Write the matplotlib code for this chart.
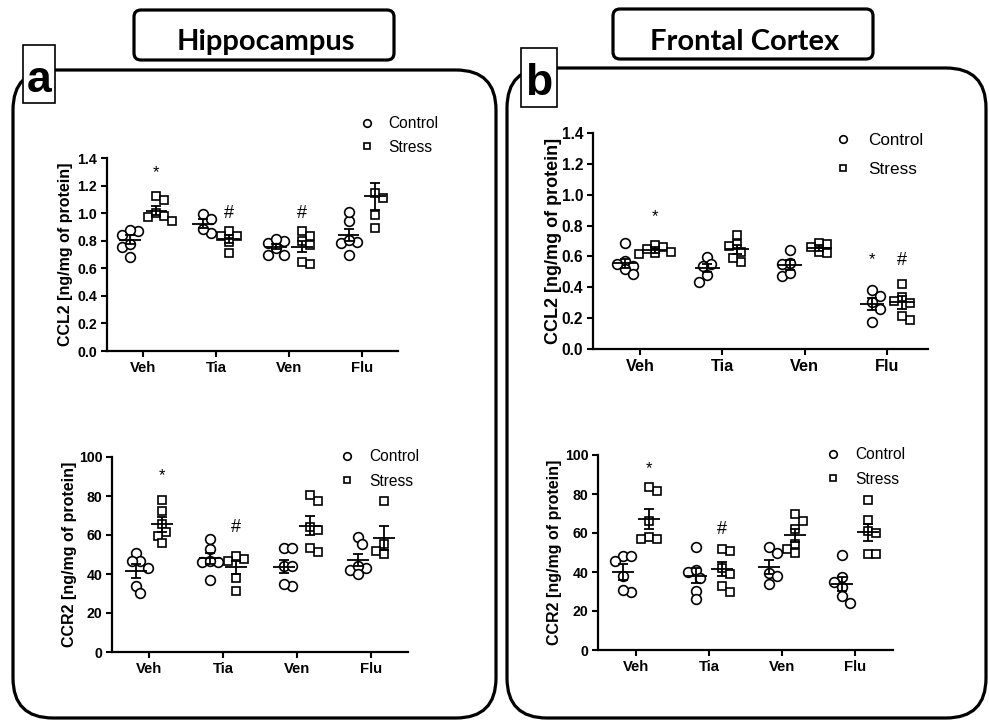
import numpy as np
import matplotlib
matplotlib.use("Agg")
import matplotlib.pyplot as plt
from matplotlib.patches import FancyBboxPatch, Rectangle
from matplotlib.ticker import FormatStrFormatter

plt.rcParams['font.family'] = ['Liberation Sans', 'DejaVu Sans']

groups = ["Veh", "Tia", "Ven", "Flu"]

# Hippocampus CCL2 (ng/mg of protein)
hip_ccl2_control = [[0.867, 0.840, 0.879, 0.685, 0.751, 0.777],
                    [0.995, 0.959, 0.855, 0.886],
                    [0.799, 0.782, 0.814, 0.746, 0.697, 0.697],
                    [0.945, 1.005, 0.792, 0.787, 0.806, 0.695]]
hip_ccl2_stress = [[1.121, 1.097, 0.981, 0.969, 0.945, 1.000],
                   [0.869, 0.831, 0.836, 0.792, 0.710],
                   [0.867, 0.831, 0.799, 0.770, 0.632, 0.642],
                   [1.112, 1.146, 0.983, 0.894]]
hip_ccl2_control_mean = [0.806, 0.923, 0.758, 0.840]
hip_ccl2_control_sem = [0.033, 0.033, 0.020, 0.045]
hip_ccl2_stress_mean = [1.017, 0.811, 0.758, 1.121]
hip_ccl2_stress_sem = [0.033, 0.030, 0.040, 0.100]

# Hippocampus CCR2
hip_ccr2_control = [[50.6, 46.7, 46.7, 43.3, 33.9, 30.2],
                    [52.8, 57.9, 46.3, 46.3, 46.7, 37.0],
                    [53.2, 53.2, 44.1, 44.1, 33.6, 34.8],
                    [58.8, 55.2, 42.9, 42.1, 44.3, 40.0]]
hip_ccr2_stress = [[72.4, 77.9, 65.4, 61.3, 59.5, 55.7],
                   [47.5, 49.4, 46.8, 38.2, 31.5],
                   [77.3, 80.4, 64.2, 62.5, 51.4, 53.2],
                   [77.3, 55.2, 51.8, 50.1]]
hip_ccr2_control_mean = [41.7, 48.0, 43.8, 47.2]
hip_ccr2_control_sem = [3.5, 2.8, 3.4, 3.1]
hip_ccr2_stress_mean = [65.4, 43.4, 64.7, 58.6]
hip_ccr2_stress_sem = [3.7, 3.4, 4.9, 6.2]

# Frontal cortex CCL2
fc_ccl2_control = [[0.689, 0.571, 0.541, 0.517, 0.487, 0.550],
                   [0.599, 0.551, 0.538, 0.437, 0.480],
                   [0.642, 0.551, 0.556, 0.470, 0.491],
                   [0.383, 0.345, 0.302, 0.258, 0.172]]
fc_ccl2_stress = [[0.663, 0.674, 0.620, 0.631, 0.616, 0.645],
                  [0.681, 0.737, 0.670, 0.631, 0.562, 0.588],
                  [0.678, 0.685, 0.631, 0.625, 0.663],
                  [0.420, 0.340, 0.312, 0.297, 0.190, 0.215]]
fc_ccl2_control_mean = [0.556, 0.523, 0.545, 0.293]
fc_ccl2_control_sem = [0.029, 0.027, 0.032, 0.040]
fc_ccl2_stress_mean = [0.642, 0.646, 0.653, 0.302]
fc_ccl2_stress_sem = [0.020, 0.029, 0.018, 0.040]

# Frontal cortex CCR2
fc_ccr2_control = [[48.4, 48.4, 45.8, 37.9, 29.6, 30.8],
                   [53.0, 40.2, 41.0, 37.1, 30.4, 26.0],
                   [53.0, 49.6, 39.7, 37.9, 33.8],
                   [48.7, 37.6, 35.0, 32.5, 27.7, 24.3]]
fc_ccr2_stress = [[81.7, 83.8, 66.2, 58.1, 56.8, 57.0],
                  [50.8, 51.8, 42.2, 38.8, 33.0, 29.6],
                  [66.3, 69.7, 62.2, 54.4, 51.8, 49.8],
                  [76.9, 66.7, 61.0, 59.8, 49.1, 49.1]]
fc_ccr2_control_mean = [40.2, 38.1, 42.7, 33.7]
fc_ccr2_control_sem = [4.1, 3.8, 3.6, 3.6]
fc_ccr2_stress_mean = [67.0, 41.4, 58.8, 60.3]
fc_ccr2_stress_sem = [5.1, 3.6, 3.4, 4.4]

# significance marks: (group, series, symbol, y)
hip_ccl2_marks = [(0, "S", "*", 1.296), (1, "S", "#", 1.0), (2, "S", "#", 1.0)]
hip_ccr2_marks = [(0, "S", "*", 90.6), (1, "S", "#", 63.9)]
fc_ccl2_marks = [(0, "S", "*", 0.86), (3, "C", "*", 0.577), (3, "S", "#", 0.573)]
fc_ccr2_marks = [(0, "S", "*", 92.8), (1, "S", "#", 61.9)]

W, H = 989, 720
fig = plt.figure(figsize=(W / 100, H / 100), dpi=100)

bg = fig.add_axes([0, 0, 1, 1], zorder=0)
bg.set_xlim(0, W)
bg.set_ylim(H, 0)
bg.axis("off")


def px_axes(x0, y0, x1, y1):
    ax = fig.add_axes([x0 / W, (H - y1) / H, (x1 - x0) / W, (y1 - y0) / H], zorder=2)
    ax.set_facecolor("none")
    return ax


def swarm(ax, xc, vals, diam=8.0, step=4.0):
    # simple column scatter: spread points sideways only where they would overlap
    vals = np.asarray(vals, dtype=float)
    ys = ax.transData.transform(np.column_stack([np.full(len(vals), xc), vals]))[:, 1]
    ppu = (ax.transData.transform((1, 0)) - ax.transData.transform((0, 0)))[0]
    offs = np.zeros(len(vals))
    placed = []
    for n, i in enumerate(np.argsort(-vals)):
        for k in range(60):
            cands = [0.0] if k == 0 else ([k * step, -k * step] if n % 2 else [-k * step, k * step])
            ok = None
            for c in cands:
                if all((c - px) ** 2 + (ys[i] - py) ** 2 >= diam ** 2 for px, py in placed):
                    ok = c
                    break
            if ok is not None:
                offs[i] = ok
                placed.append((ok, ys[i]))
                break
    return xc + offs / ppu


def panel(box, ctrl, strs, cm, cs, sm, ss, marks, ymax, ystep, fmt, ylabel,
          xlim, ysize, tsize, label_x, leg):
    ax = px_axes(*box)
    ax.set_xlim(*xlim)
    ax.set_ylim(0, ymax)
    off = 0.18
    series = [("C", ctrl, cm, cs, "o", 7.0, "Control", -off),
              ("S", strs, sm, ss, "s", 5.6, "Stress", off)]
    for key, data, means, sems, mk, ms, name, dx in series:
        for g in range(len(groups)):
            xc = g + dx
            xs = swarm(ax, xc, data[g])
            ax.plot(xs, data[g], linestyle="none", marker=mk, ms=ms, mfc="white",
                    mec="black", mew=1.2, zorder=3, label=name if g == 0 else "_nolegend_")
            ax.plot([xc - 0.15, xc + 0.15], [means[g], means[g]], color="black",
                    lw=1.3, zorder=4, solid_capstyle="butt")
            ax.errorbar([xc], [means[g]], yerr=[sems[g]], fmt="none", ecolor="black",
                        elinewidth=1.3, capsize=3.8, capthick=1.3, zorder=4)
    for g, key, sym, y in marks:
        xc = g + (-off if key == "C" else off)
        ax.text(xc, y, sym, ha="center", va="center",
                fontsize=13 if sym == "#" else 12, zorder=5)
    for side in ("top", "right"):
        ax.spines[side].set_visible(False)
    for side in ("left", "bottom"):
        ax.spines[side].set_linewidth(1.6)
    ax.set_yticks(np.arange(0, ymax + ystep / 2, ystep))
    ax.yaxis.set_major_formatter(FormatStrFormatter(fmt))
    ax.set_xticks(range(len(groups)))
    ax.set_xticklabels(groups)
    ax.tick_params(direction="out", length=4, width=1.5, pad=3)
    for t in ax.get_yticklabels():
        t.set_fontweight("bold")
        t.set_fontsize(tsize)
    for t in ax.get_xticklabels():
        t.set_fontweight("bold")
        t.set_fontsize(tsize + 0.5)
    ax.set_ylabel(ylabel, fontsize=ysize, fontweight="bold")
    x0, y0, x1, y1 = box
    ax.yaxis.set_label_coords((label_x - x0) / (x1 - x0), 0.5)
    hx, hy, fs, htp, lsp = leg
    ax.legend(loc="center left", bbox_to_anchor=(hx, hy), bbox_transform=bg.transData,
              frameon=False, fontsize=fs, handlelength=1.0, handletextpad=htp,
              labelspacing=lsp, borderpad=0, borderaxespad=0, markerscale=0.78)
    return ax


panel((107, 158, 398, 351), hip_ccl2_control, hip_ccl2_stress,
      hip_ccl2_control_mean, hip_ccl2_control_sem, hip_ccl2_stress_mean, hip_ccl2_stress_sem,
      hip_ccl2_marks, 1.4, 0.2, "%.1f", "CCL2 [ng/mg of protein]",
      (-0.5, 3.5), 11.5, 10.2, 73, (359, 135.5, 11.2, 0.85, 0.55))
panel((112, 457, 408, 652), hip_ccr2_control, hip_ccr2_stress,
      hip_ccr2_control_mean, hip_ccr2_control_sem, hip_ccr2_stress_mean, hip_ccr2_stress_sem,
      hip_ccr2_marks, 100, 20, "%d", "CCR2 [ng/mg of protein]",
      (-0.5, 3.5), 11.5, 10.2, 77, (339, 469, 11.2, 0.97, 0.62))
panel((593, 133, 928, 349), fc_ccl2_control, fc_ccl2_stress,
      fc_ccl2_control_mean, fc_ccl2_control_sem, fc_ccl2_stress_mean, fc_ccl2_stress_sem,
      fc_ccl2_marks, 1.4, 0.2, "%.1f", "CCL2 [ng/mg of protein]",
      (-0.57, 3.5), 13, 11.2, 562, (834.5, 155, 12.3, 0.97, 0.78))
panel((598, 455, 893, 650), fc_ccr2_control, fc_ccr2_stress,
      fc_ccr2_control_mean, fc_ccr2_control_sem, fc_ccr2_stress_mean, fc_ccr2_stress_sem,
      fc_ccr2_marks, 100, 20, "%d", "CCR2 [ng/mg of protein]",
      (-0.52, 3.52), 11.5, 10.2, 562, (825, 467, 11.2, 0.97, 0.62))

# rounded frames, title boxes and panel letters
for x0, y0, x1, y1 in [(13, 70, 496, 718), (507, 68, 986, 718)]:
    bg.add_patch(FancyBboxPatch((x0, y0), x1 - x0, y1 - y0,
                                boxstyle="round,pad=0,rounding_size=40",
                                fc="none", ec="black", lw=2.3))
for (x0, y0, x1, y1), title in [((134, 10, 394, 60), "Hippocampus"),
                                ((613, 9, 873, 59), "Frontal Cortex")]:
    bg.add_patch(FancyBboxPatch((x0, y0), x1 - x0, y1 - y0,
                                boxstyle="round,pad=0,rounding_size=7",
                                fc="white", ec="black", lw=2.3))
    bg.text((x0 + x1) / 2 + 2, 50, title, ha="center", va="baseline",
            fontsize=21, fontweight="bold", family=["Lato", "DejaVu Sans"])
for (x0, y0, x1, y1), letter, base in [((23, 45, 55, 103), "a", 92),
                                       ((521, 48, 557, 107), "b", 95)]:
    bg.add_patch(Rectangle((x0, y0), x1 - x0, y1 - y0, fc="white", ec="black", lw=1.2,
                           zorder=3))
    bg.text((x0 + x1) / 2, base, letter, ha="center", va="baseline",
            fontsize=32, fontweight="bold", zorder=4)

fig.savefig("out.png", dpi=100)
